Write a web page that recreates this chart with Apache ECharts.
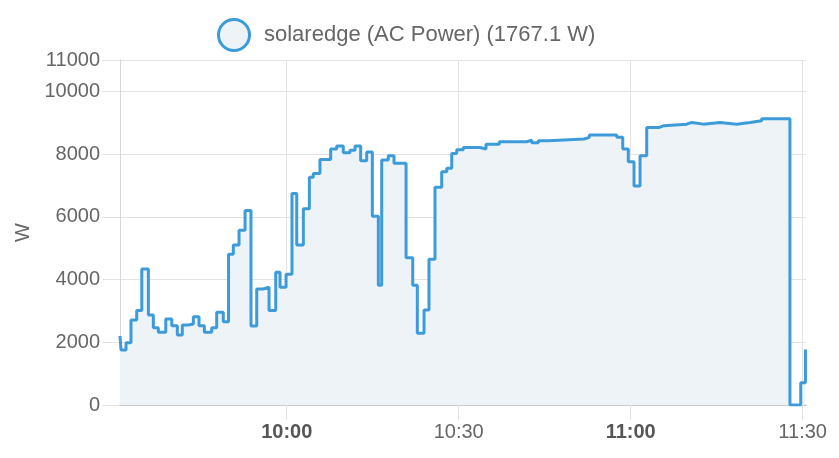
<!DOCTYPE html>
<html><head><meta charset="utf-8">
<script src="https://cdn.jsdelivr.net/npm/echarts@6/dist/echarts.min.js"></script>
<style>html,body{margin:0;padding:0;background:#fff}#c{width:839px;height:458px}</style>
</head><body><div id="c"></div>
<script>
const seriesName = 'solaredge (AC Power) (1767.1 W)';
const day = '2023-06-01';
const axisStart = '09:30:55';
const axisEnd = '11:30:35';
const yAxisName = 'W';
const xTickLabels = ['10:00', '10:30', '11:00', '11:30'];
const boldTickLabels = ['10:00', '11:00'];
const times = [
  '09:30:55','09:31:06','09:31:58','09:32:50','09:33:50','09:34:43','09:35:52','09:36:44','09:37:36','09:38:54',
  '09:39:57','09:40:55','09:41:47','09:42:50','09:43:43','09:44:42','09:45:38','09:46:55','09:47:47','09:48:56',
  '09:49:51','09:50:41','09:51:41','09:52:44','09:53:46','09:54:46','09:55:52','09:56:55','09:58:05','09:58:50',
  '09:59:53','10:00:55','10:01:45','10:02:54','10:03:57','10:04:38','10:05:48','10:07:40','10:08:43','10:09:52',
  '10:11:02','10:11:55','10:12:54','10:13:57','10:14:56','10:15:59','10:16:34','10:17:43','10:18:43','10:20:49',
  '10:21:59','10:22:47','10:23:57','10:24:49','10:25:52','10:27:02','10:27:55','10:28:47','10:29:39','10:30:48',
  '10:33:43','10:34:46','10:37:05','10:41:52','10:42:44','10:43:53','10:45:38','10:51:52','10:52:47','10:57:34',
  '10:58:37','10:59:35','11:00:35','11:01:38','11:02:48','11:04:59','11:05:49','11:09:46','11:10:39','11:12:40',
  '11:15:35','11:18:29','11:20:49','11:22:51','11:27:47','11:29:40','11:30:29'
];
const values = [
  2200,1750,1985,2710,3010,4335,2870,2460,2320,2740,
  2525,2235,2550,2580,2815,2525,2320,2460,2955,2655,
  4805,5100,5570,6205,2515,3700,3755,3010,4230,3755,
  4170,6740,5100,6255,7260,7380,7830,8160,8255,8040,
  8125,8255,7790,8070,6020,3820,7810,7950,7705,4695,
  3820,2285,3030,4645,6940,7435,7545,8020,8140,8210,
  8160,8310,8395,8445,8360,8425,8480,8535,8610,8535,
  8160,7755,6980,7950,8850,8905,8955,9010,8955,9010,
  8955,9010,9060,9125,0,710,1767.1
];
const yMin = 0, yMax = 11000, yInterval = 2000;

const lineColor = '#3d9bd9';
const fillColor = '#eef3f7';
const textColor = '#666';
const gridColor = '#e3e3e3';

const toTs = t => new Date(day + 'T' + (t.length === 5 ? t + ':00' : t)).getTime();
const tickValues = xTickLabels.map(toTs);

const chart = echarts.init(document.getElementById('c'), null, {renderer: 'canvas'});
const pad = n => (n < 10 ? '0' : '') + n;
chart.setOption({
  animation: false,
  textStyle: {fontFamily: 'Liberation Sans, Arial, sans-serif'},
  legend: {
    left: 212, top: 13,
    icon: 'circle', itemWidth: 50, itemHeight: 31,
    itemStyle: {color: fillColor, borderColor: lineColor, borderWidth: 3},
    textStyle: {fontSize: 22, color: textColor},
    data: [seriesName]
  },
  grid: {left: 120, right: 33, top: 60, bottom: 53, containLabel: false},
  xAxis: {
    type: 'value',
    min: toTs(axisStart),
    max: toTs(axisEnd),
    axisLine: {show: true, lineStyle: {color: '#c4c4c4', width: 1.5}},
    axisTick: {show: true, length: 15, lineStyle: {color: gridColor}, customValues: tickValues},
    splitLine: {show: true, lineStyle: {color: gridColor, width: 1}},
    axisLabel: {
      customValues: tickValues,
      fontSize: 20, color: textColor, margin: 17, hideOverlap: false,
      formatter: function (v) {
        const d = new Date(v);
        const s = pad(d.getHours()) + ':' + pad(d.getMinutes());
        return boldTickLabels.indexOf(s) >= 0 ? '{b|' + s + '}' : s;
      },
      rich: {b: {fontWeight: 'bold', fontSize: 20, color: '#555'}}
    }
  },
  yAxis: {
    type: 'value', min: yMin, max: yMax, interval: yInterval,
    name: yAxisName, nameLocation: 'middle', nameGap: 85, nameRotate: 90,
    nameTextStyle: {fontSize: 20, color: textColor},
    axisLine: {show: true, lineStyle: {color: '#d6d6d6'}},
    axisTick: {show: true, length: 18, lineStyle: {color: gridColor}},
    splitLine: {show: true, lineStyle: {color: gridColor, width: 1}},
    axisLabel: {fontSize: 20, color: textColor, margin: 20, formatter: v => String(v)}
  },
  series: [{
    type: 'line', name: seriesName, step: 'end',
    showSymbol: false, symbol: 'circle',
    data: times.map((t, i) => [toTs(t), values[i]]),
    lineStyle: {color: lineColor, width: 3},
    itemStyle: {color: fillColor, borderColor: lineColor, borderWidth: 3},
    areaStyle: {color: fillColor, opacity: 1}
  }]
});
</script></body></html>
